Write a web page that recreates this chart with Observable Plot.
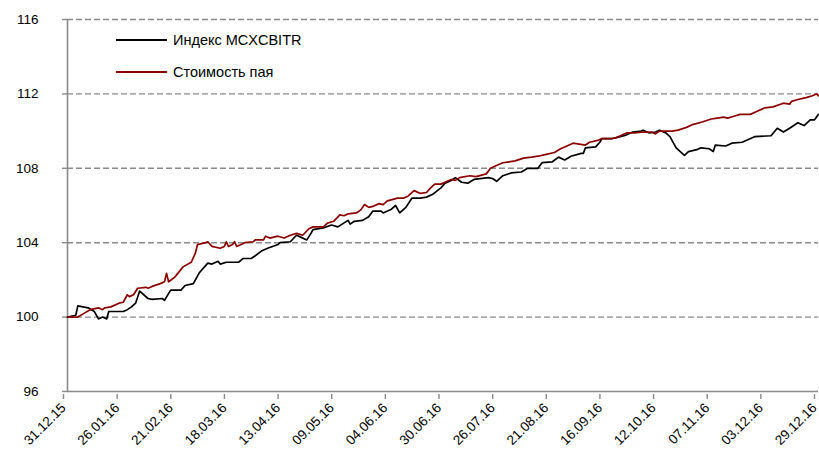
<!DOCTYPE html>
<html>
<head>
<meta charset="utf-8">
<script src="https://cdn.jsdelivr.net/npm/d3@7"></script>
<script src="https://cdn.jsdelivr.net/npm/@observablehq/plot@0.6"></script>
<style>
  html, body { margin: 0; padding: 0; background: #fff; }
  #wrap { position: relative; width: 819px; height: 455px; font-family: "Liberation Sans", Arial, sans-serif; }
  .leg { position: absolute; left: 116px; display: flex; align-items: center; font-size: 14.5px; color: #000; }
  .leg .sw { width: 51px; height: 0; border-top: 2px solid; margin-right: 6px; }
</style>
</head>
<body>
<div id="wrap"></div>
<script>
// ---- Data ----
const seriesNames = ["Индекс MCXCBITR", "Стоимость пая"];
const seriesColors = ["#000000", "#8b0000"];

const indexDates = ["2015-12-31","2016-01-04","2016-01-05","2016-01-10","2016-01-13","2016-01-15","2016-01-17","2016-01-19","2016-01-20","2016-01-27","2016-01-29","2016-01-31","2016-02-02","2016-02-04","2016-02-08","2016-02-10","2016-02-15","2016-02-16","2016-02-19","2016-02-24","2016-02-26","2016-03-01","2016-03-02","2016-03-04","2016-03-08","2016-03-10","2016-03-13","2016-03-14","2016-03-17","2016-03-23","2016-03-25","2016-03-29","2016-03-31","2016-04-03","2016-04-06","2016-04-11","2016-04-12","2016-04-17","2016-04-20","2016-04-22","2016-04-25","2016-04-27","2016-04-28","2016-05-03","2016-05-07","2016-05-10","2016-05-15","2016-05-16","2016-05-18","2016-05-22","2016-05-25","2016-05-27","2016-05-31","2016-06-01","2016-06-05","2016-06-07","2016-06-09","2016-06-12","2016-06-15","2016-06-19","2016-06-22","2016-06-25","2016-06-29","2016-07-01","2016-07-04","2016-07-06","2016-07-09","2016-07-12","2016-07-15","2016-07-22","2016-07-24","2016-07-26","2016-07-29","2016-08-02","2016-08-07","2016-08-10","2016-08-15","2016-08-17","2016-08-22","2016-08-25","2016-08-28","2016-08-31","2016-09-05","2016-09-06","2016-09-07","2016-09-12","2016-09-14","2016-09-15","2016-09-20","2016-09-24","2016-09-27","2016-09-30","2016-10-04","2016-10-05","2016-10-08","2016-10-11","2016-10-13","2016-10-16","2016-10-18","2016-10-19","2016-10-21","2016-10-25","2016-10-27","2016-10-31","2016-11-02","2016-11-06","2016-11-08","2016-11-09","2016-11-14","2016-11-17","2016-11-22","2016-11-28","2016-12-06","2016-12-09","2016-12-12","2016-12-15","2016-12-19","2016-12-22","2016-12-25","2016-12-27","2016-12-29"];
const indexValues = [100.0,100.1,100.6,100.5,100.3,99.9,100.0,99.9,100.3,100.3,100.4,100.55,100.75,101.4,101.0,100.95,101.0,100.9,101.45,101.45,101.7,101.8,102.0,102.4,102.9,102.85,103.0,102.85,102.95,102.95,103.15,103.15,103.3,103.55,103.7,103.9,104.0,104.05,104.4,104.3,104.15,104.5,104.7,104.8,104.95,104.85,105.2,105.0,105.15,105.2,105.4,105.7,105.7,105.6,105.8,106.0,105.6,105.9,106.4,106.4,106.45,106.6,106.95,107.2,107.35,107.5,107.25,107.2,107.4,107.5,107.45,107.3,107.6,107.75,107.8,108.0,108.0,108.3,108.35,108.6,108.45,108.65,108.8,108.8,109.1,109.15,109.4,109.6,109.6,109.7,109.8,109.95,110.0,110.05,109.9,109.95,110.05,109.9,109.7,109.5,109.1,108.7,108.9,109.0,109.1,109.05,108.9,109.25,109.2,109.35,109.4,109.7,109.75,110.15,109.95,110.15,110.45,110.3,110.6,110.6,110.9];

const navDates = ["2015-12-31","2016-01-05","2016-01-08","2016-01-11","2016-01-15","2016-01-17","2016-01-18","2016-01-21","2016-01-25","2016-01-27","2016-01-29","2016-01-30","2016-02-01","2016-02-03","2016-02-07","2016-02-08","2016-02-10","2016-02-14","2016-02-16","2016-02-17","2016-02-18","2016-02-21","2016-02-25","2016-02-29","2016-03-02","2016-03-03","2016-03-07","2016-03-08","2016-03-10","2016-03-14","2016-03-16","2016-03-17","2016-03-18","2016-03-20","2016-03-21","2016-03-22","2016-03-26","2016-03-30","2016-03-31","2016-04-04","2016-04-05","2016-04-07","2016-04-11","2016-04-14","2016-04-17","2016-04-20","2016-04-23","2016-04-26","2016-04-28","2016-05-03","2016-05-05","2016-05-08","2016-05-11","2016-05-13","2016-05-15","2016-05-19","2016-05-21","2016-05-23","2016-05-25","2016-05-27","2016-05-30","2016-06-01","2016-06-03","2016-06-08","2016-06-11","2016-06-13","2016-06-16","2016-06-19","2016-06-22","2016-06-24","2016-06-26","2016-06-29","2016-07-01","2016-07-04","2016-07-06","2016-07-08","2016-07-13","2016-07-16","2016-07-21","2016-07-23","2016-07-27","2016-07-29","2016-08-01","2016-08-04","2016-08-08","2016-08-12","2016-08-15","2016-08-19","2016-08-23","2016-08-26","2016-08-28","2016-09-01","2016-09-04","2016-09-07","2016-09-09","2016-09-13","2016-09-15","2016-09-20","2016-09-22","2016-09-24","2016-09-27","2016-10-01","2016-10-05","2016-10-09","2016-10-11","2016-10-13","2016-10-19","2016-10-22","2016-10-26","2016-10-29","2016-11-03","2016-11-07","2016-11-10","2016-11-13","2016-11-15","2016-11-18","2016-11-21","2016-11-26","2016-11-29","2016-12-03","2016-12-07","2016-12-12","2016-12-15","2016-12-16","2016-12-19","2016-12-23","2016-12-26","2016-12-28","2016-12-29"];
const navValues = [100.0,100.0,100.2,100.4,100.5,100.4,100.5,100.55,100.75,100.8,101.2,101.1,101.2,101.55,101.6,101.55,101.65,101.8,101.9,102.35,101.9,102.15,102.7,102.95,103.45,103.9,104.0,104.05,103.8,103.7,103.8,104.05,103.8,103.9,104.05,103.8,104.0,104.05,104.15,104.15,104.35,104.25,104.35,104.25,104.4,104.5,104.4,104.75,104.85,104.85,105.05,105.15,105.5,105.45,105.55,105.6,105.75,106.05,105.9,105.95,106.1,106.05,106.25,106.4,106.4,106.5,106.8,106.65,106.7,106.95,107.15,107.15,107.25,107.4,107.35,107.5,107.6,107.55,107.7,108.0,108.2,108.3,108.35,108.4,108.55,108.6,108.65,108.75,108.85,109.05,109.15,109.35,109.3,109.25,109.4,109.5,109.6,109.6,109.65,109.75,109.9,109.9,109.95,109.95,109.85,110.0,110.0,110.05,110.2,110.35,110.5,110.65,110.7,110.75,110.7,110.8,110.9,110.9,111.05,111.25,111.3,111.5,111.45,111.6,111.7,111.8,111.9,112.0,111.9];

const xTickLabels = ["31.12.15","26.01.16","21.02.16","18.03.16","13.04.16","09.05.16","04.06.16","30.06.16","26.07.16","21.08.16","16.09.16","12.10.16","07.11.16","03.12.16","29.12.16"];
const yTicks = [96, 100, 104, 108, 112, 116];
const yGrid = [100, 104, 108, 112, 116];
const yDomain = [96, 116];

// ---- Build ----
const parse = d3.utcParse("%Y-%m-%d");
const parseTick = d3.utcParse("%d.%m.%y");
const fmtTick = d3.utcFormat("%d.%m.%y");
const xTicks = xTickLabels.map(parseTick);
const xDomain = [xTicks[0], xTicks[xTicks.length - 1]];

const rows = [
  ...indexDates.map((d, i) => ({date: parse(d), value: indexValues[i], series: seriesNames[0]})),
  ...navDates.map((d, i) => ({date: parse(d), value: navValues[i], series: seriesNames[1]}))
];

const gray = "#8a8a8a";
const chart = Plot.plot({
  width: 819,
  height: 455,
  marginLeft: 67,
  marginRight: 1,
  marginTop: 19,
  marginBottom: 64,
  style: {fontFamily: '"Liberation Sans", Arial, sans-serif', background: "#fff", overflow: "visible"},
  x: {type: "utc", domain: xDomain},
  y: {domain: yDomain},
  color: {domain: seriesNames, range: seriesColors},
  marks: [
    Plot.ruleY(yGrid, {stroke: gray, strokeWidth: 1.4, strokeDasharray: "6,3"}),
    Plot.ruleY([yDomain[0]], {stroke: gray, strokeWidth: 1.6}),
    Plot.ruleX([xDomain[0]], {stroke: gray, strokeWidth: 1.6}),
    Plot.axisY({ticks: yTicks, tickSize: 5, tickPadding: 24, fontSize: 13.5, stroke: gray, strokeWidth: 1.4, color: "#000", tickFormat: d => d3.format("d")(d), label: null}),
    Plot.axisX({ticks: xTicks, tickSize: 5, tickPadding: 6, tickRotate: -45, fontSize: 13.5, dx: -4, dy: 3, stroke: gray, strokeWidth: 1.4, color: "#000", tickFormat: fmtTick, label: null}),
    Plot.line(rows, {x: "date", y: "value", z: "series", stroke: "series", strokeWidth: 1.7, curve: "linear"})
  ]
});

const wrap = document.getElementById("wrap");
wrap.appendChild(chart);
const legTops = [40, 72];
seriesNames.forEach((name, i) => {
  const el = document.createElement("div");
  el.className = "leg";
  el.style.top = (legTops[i] - 9) + "px";
  el.style.height = "18px";
  const sw = document.createElement("span");
  sw.className = "sw";
  sw.style.borderColor = seriesColors[i];
  const tx = document.createElement("span");
  tx.textContent = name;
  el.appendChild(sw);
  el.appendChild(tx);
  wrap.appendChild(el);
});
</script>
</body>
</html>
